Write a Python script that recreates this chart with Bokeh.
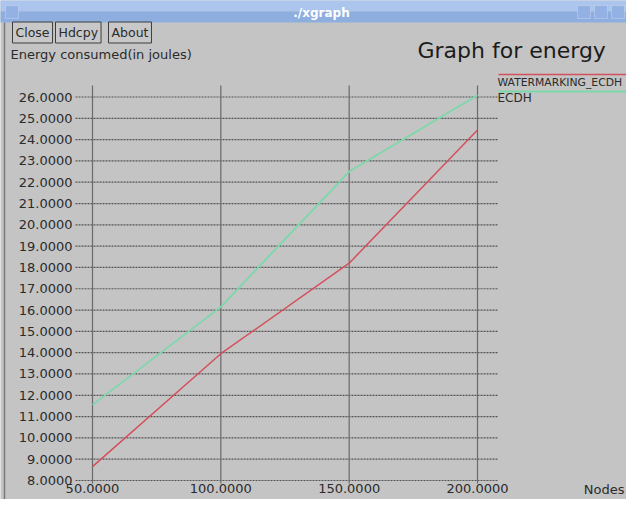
from bokeh.plotting import figure
from bokeh.models import (Label, Arrow, FixedTicker, PrintfTickFormatter, Range1d,
                          LinearAxis, BoxAnnotation)
from bokeh.embed import file_html
from bokeh.resources import INLINE

# ---- data ----
nodes = [50, 100, 150, 200]
watermarking_ecdh = [8.65, 13.95, 18.2, 24.45]
ecdh = [11.55, 16.15, 22.5, 26.08]
x_ticks = [50, 100, 150, 200]
y_ticks = list(range(8, 27))
series_names = ["WATERMARKING_ECDH", "ECDH"]

title_text = "Graph for energy"
y_title = "Energy consumed(in joules)"
x_title = "Nodes"
window_title = "./xgraph"
buttons = ["Close", "Hdcpy", "About"]

# ---- styles / layout ----
BG = "#c4c4c4"
TXT = "#2b2b2b"
RED = "#d4505c"
GREEN = "#7cd8aa"
FONT = "DejaVu Sans"

W, H = 626, 499
SX = 385.0 / 150.0              # px per node unit
SY = (480 - 96.5) / 18.0        # px per joule
X0 = 50 - 92 / SX
X1 = X0 + W / SX
Y1 = 26 + 96.5 / SY
Y0 = Y1 - H / SY


def dx(px):  # canvas pixel -> data x
    return X0 + px / SX


def dy(py):  # canvas pixel -> data y
    return Y1 - py / SY


BOX_L, BOX_R, BOX_T, BOX_B = dx(75), dx(497), dy(85), dy(483)

p = figure(width=W, height=H, output_backend="svg", toolbar_location=None,
           x_range=Range1d(X0, X1), y_range=Range1d(Y0, Y1),
           x_axis_location=None, y_axis_location=None,
           min_border_left=0, min_border_right=0, min_border_top=0, min_border_bottom=0,
           background_fill_color=BG, border_fill_color=BG)
p.outline_line_color = None
p.xgrid.visible = False
p.ygrid.visible = False

# axes, fixed at the plot box edges
yax = LinearAxis(fixed_location=BOX_L, ticker=FixedTicker(ticks=y_ticks),
                 formatter=PrintfTickFormatter(format="%.4f"))
xax = LinearAxis(fixed_location=BOX_B, ticker=FixedTicker(ticks=x_ticks),
                 formatter=PrintfTickFormatter(format="%.4f"))
for ax in (xax, yax):
    ax.axis_line_color = None
    ax.major_tick_line_color = None
    ax.major_tick_in = 0
    ax.major_tick_out = 0
    ax.minor_tick_line_color = None
    ax.minor_tick_in = 0
    ax.minor_tick_out = 0
    ax.major_label_text_font = FONT
    ax.major_label_text_font_size = "13px"
    ax.major_label_text_color = TXT
yax.major_label_standoff = 3
xax.major_label_standoff = 0
p.add_layout(yax, "left")
p.add_layout(xax, "below")

# grid lines of the plot box
p.segment(x0=[BOX_L] * len(y_ticks), y0=y_ticks, x1=[BOX_R] * len(y_ticks), y1=y_ticks,
          line_color="#555555", line_width=1.2, line_dash="2 1")
p.segment(x0=x_ticks, y0=[BOX_B] * len(x_ticks), x1=x_ticks, y1=[BOX_T] * len(x_ticks),
          line_color="#6a6a6a", line_width=1.2)

# series
p.line(nodes, watermarking_ecdh, line_color=RED, line_width=1.5)
p.line(nodes, ecdh, line_color=GREEN, line_width=1.8)

# legend (xgraph style: line above the name)
p.add_layout(Arrow(end=None, x_start=dx(498), y_start=dy(74), x_end=dx(640), y_end=dy(74),
                   line_color=RED, line_width=1.5))
p.add_layout(Arrow(end=None, x_start=dx(498), y_start=dy(91), x_end=dx(640), y_end=dy(91),
                   line_color=GREEN, line_width=1.8))
p.add_layout(Label(x=dx(497), y=dy(81.5), text=series_names[0], text_font=FONT,
                   text_font_size="10.8px", text_color=TXT, text_baseline="middle"))
p.add_layout(Label(x=dx(497), y=dy(97.5), text=series_names[1], text_font=FONT,
                   text_font_size="12px", text_color=TXT, text_baseline="middle"))

# window border on the left
p.add_layout(Arrow(end=None, x_start=dx(4), y_start=dy(22), x_end=dx(4), y_end=dy(520),
                   line_color="#7a7a7a", line_width=1.5))

# titles
p.add_layout(Label(x=dx(417), y=dy(50), text=title_text, text_font=FONT,
                   text_font_size="22px", text_color="#1c1c1c", text_baseline="alphabetic"))
p.add_layout(Label(x=dx(10), y=dy(54), text=y_title, text_font=FONT,
                   text_font_size="13px", text_color=TXT, text_baseline="alphabetic"))
p.add_layout(Label(x=dx(624), y=dy(489), text=x_title, text_font=FONT,
                   text_font_size="13px", text_color=TXT, text_baseline="middle",
                   text_align="right"))

# window title bar
p.add_layout(BoxAnnotation(left=dx(-5), right=dx(650), top=dy(-5), bottom=dy(11),
                           fill_color="#abc5ed", fill_alpha=1, line_color=None))
p.add_layout(BoxAnnotation(left=dx(-5), right=dx(650), top=dy(11), bottom=dy(22),
                           fill_color="#8eaee0", fill_alpha=1, line_color=None))
for bl in (5, 577, 594, 611):
    p.add_layout(BoxAnnotation(left=dx(bl), right=dx(bl + 13), top=dy(5), bottom=dy(18),
                               fill_color="#93b2e3", fill_alpha=1,
                               line_color="#e4ecf9", line_width=1))
p.add_layout(Label(x=dx(321), y=dy(12), text=window_title, text_font=FONT,
                   text_font_size="12px", text_font_style="bold", text_color="#ffffff",
                   text_align="center", text_baseline="middle"))

# buttons
for name, bx in zip(buttons, [12, 55, 108]):
    p.add_layout(Label(x=dx(bx), y=dy(32), text=name, text_font=FONT,
                       text_font_size="12.5px", text_color=TXT, text_baseline="middle",
                       border_line_color="#3c3c3c", border_line_width=1,
                       background_fill_color="#c8c8c8", padding=3))

open("out.html", "w").write(file_html(p, INLINE))
